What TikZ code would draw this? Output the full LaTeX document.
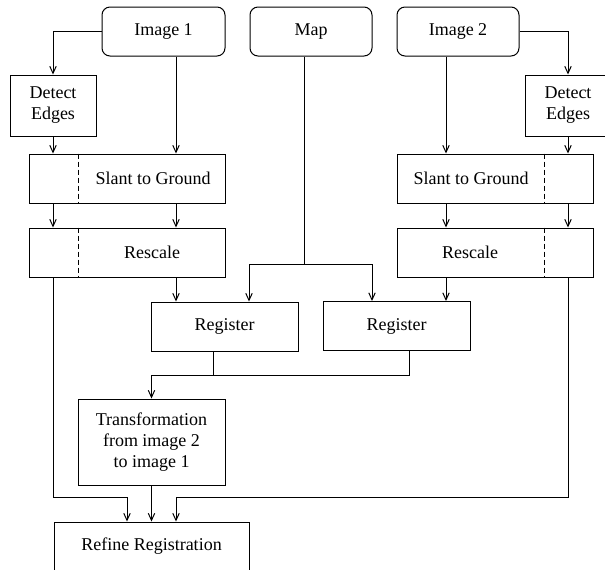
\documentclass[tikz,border=0pt]{standalone}
\usepackage{fontspec}
\setmainfont{Liberation Serif}
\usetikzlibrary{arrows.meta}

\tikzset{
  box/.style={draw, minimum height=24.5pt, inner sep=0pt, align=center},
  rbox/.style={box, rounded corners=4pt},
  flow/.style={-{Straight Barb[length=3.5pt,width=3.2pt]}},
  split/.style={dash pattern=on 2.5pt off 1.5pt},
}

\begin{document}
\begin{tikzpicture}[x=0.5pt, y=-0.5pt, line width=0.5pt, font=\fontsize{9}{10.5}\selectfont]
\useasboundingbox (0,0) rectangle (605,569);

% sources
\node[rbox, minimum width=61.5pt] (img1) at (163.5,31.5) {Image 1};
\node[rbox, minimum width=61pt] (map) at (311,31.5) {Map};
\node[rbox, minimum width=61pt] (img2) at (458,31.5) {Image 2};

% edge detection
\node[box, minimum width=43pt, minimum height=30.5pt] (det1) at (53,105.5) {Detect\\Edges};
\node[box, minimum width=43pt, minimum height=30.5pt] (det2) at (568,105.5) {Detect\\Edges};

% slant to ground and rescale
\node[box, minimum width=98pt] (slant1) at (127,178.5) {};
\node[box, minimum width=98pt] (resc1) at (127,252.5) {};
\node[box, minimum width=98pt] (slant2) at (495,178.5) {};
\node[box, minimum width=98pt] (resc2) at (495,252.5) {};
\node (slant1txt) at (153,178.5) {Slant to Ground};
\node (resc1txt) at (152,252.5) {Rescale};
\node (slant2txt) at (471,178.5) {Slant to Ground};
\node (resc2txt) at (470,252.5) {Rescale};

% registration
\node[box, minimum width=73.5pt] (reg1) at (224.5,326.5) {Register};
\node[box, minimum width=73.5pt] (reg2) at (396.5,326) {Register};
\node[box, minimum width=73.5pt, minimum height=43pt] (trans) at (151.5,442)
  {Transformation\\from image 2\\to image 1};
\node[box, minimum width=97.5pt] (refine) at (151.5,546.5) {Refine Registration};

% columns and joints
\coordinate (dl) at (78,0);
\coordinate (dr) at (544,0);
\coordinate (xd) at (176,0);
\coordinate (xe) at (249,0);
\coordinate (xf) at (372,0);
\coordinate (xg) at (446,0);
\coordinate (xr1) at (213,0);
\coordinate (xr2) at (409,0);
\coordinate (msplit) at (304,264);
\coordinate (rjoin) at (151.5,375);
\coordinate (lin) at (127,497);
\coordinate (rin) at (176,497);

% dashed separators
\draw[split] (slant1.north -| dl) -- (slant1.south -| dl);
\draw[split] (resc1.north -| dl) -- (resc1.south -| dl);
\draw[split] (slant2.north -| dr) -- (slant2.south -| dr);
\draw[split] (resc2.north -| dr) -- (resc2.south -| dr);

% image 1 branch
\draw[flow] (img1.west) -| (det1.north);
\draw[flow] (img1.south -| xd) -- (slant1.north -| xd);
\draw[flow] (det1.south) -- (slant1.north -| det1.south);
\draw[flow] (slant1.south -| det1.south) -- (resc1.north -| det1.south);
\draw[flow] (slant1.south -| xd) -- (resc1.north -| xd);
\draw[flow] (resc1.south -| xd) -- (reg1.north -| xd);

% map
\draw[flow] (map.south -| msplit) -- (msplit) -| (reg1.north -| xe);
\draw[flow] (msplit) -| (reg2.north -| xf);

% image 2 branch
\draw[flow] (img2.east) -| (det2.north);
\draw[flow] (img2.south -| xg) -- (slant2.north -| xg);
\draw[flow] (det2.south) -- (slant2.north -| det2.south);
\draw[flow] (slant2.south -| det2.south) -- (resc2.north -| det2.south);
\draw[flow] (slant2.south -| xg) -- (resc2.north -| xg);
\draw[flow] (resc2.south -| xg) -- (reg2.north -| xg);

% combine
\draw (reg1.south -| xr1) -- (xr1 |- rjoin);
\draw[flow] (reg2.south -| xr2) |- (rjoin) -- (trans.north);
\draw[flow] (resc1.south -| det1.south) |- (lin) -- (refine.north -| lin);
\draw[flow] (trans.south) -- (refine.north);
\draw[flow] (resc2.south -| det2.south) |- (rin) -- (refine.north -| rin);
\end{tikzpicture}
\end{document}
